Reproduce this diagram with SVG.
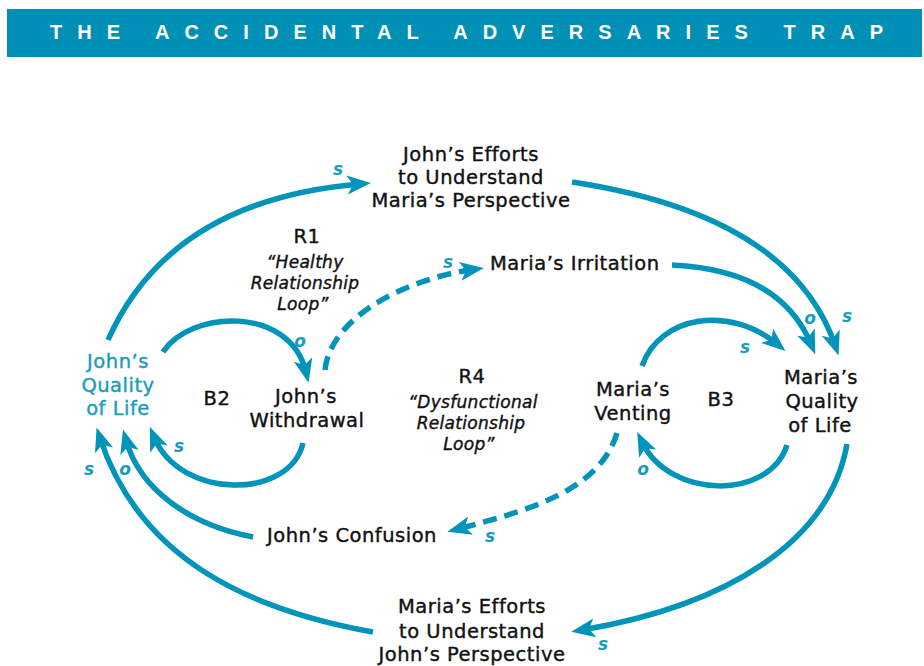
<svg xmlns="http://www.w3.org/2000/svg" width="924" height="666" viewBox="0 0 924 666">
<defs>
<style>
.t{font-family:"DejaVu Sans","Liberation Sans",sans-serif;font-size:19.5px;letter-spacing:0.5px;fill:#111;stroke:#111;stroke-width:0.4;text-anchor:middle}
.q{fill:#1a9cc0;stroke:#1a9cc0}
.i{font-style:italic;font-size:17px;letter-spacing:0.3px}
.p{font-family:"DejaVu Sans","Liberation Sans",sans-serif;font-size:17px;font-weight:bold;font-style:italic;fill:#1a9cc0;text-anchor:middle}
.c{fill:none;stroke:#0094BA;stroke-width:5.5;marker-end:url(#ah)}
.d{stroke-dasharray:14 8}
</style>
<marker id="ah" markerUnits="userSpaceOnUse" markerWidth="30" markerHeight="30" viewBox="-15 -15 30 30" refX="0" refY="0" orient="auto">
<path d="M11,0 L-13,-9.5 L-7,0 L-13,9.5 Z" fill="#0094BA"/>
</marker>
</defs>
<rect x="7" y="9" width="915" height="48" fill="#008FB5"/>
<text x="50" y="39" textLength="833" lengthAdjust="spacing" style="font-family:'Liberation Sans',Arial,sans-serif;font-weight:bold;font-size:20px;fill:#fff">THE ACCIDENTAL ADVERSARIES TRAP</text>

<g id="connectors">
<path class="c" d="M108,340 Q170,200 360,184"/>
<path class="c" d="M572,182 Q790,215 835,345"/>
<path class="c" d="M672,265 Q780,270 811,344"/>
<path class="c" d="M642,366 C660,315 730,305 777,344"/>
<path class="c" d="M787,445 C770,500 670,500 642,442"/>
<path class="c" d="M847,444 C830,540 730,605 582,630"/>
<path class="c" d="M373,632 C250,610 140,560 100,438"/>
<path class="c" d="M253,537 C190,525 140,490 126,440"/>
<path class="c" d="M303,443 C290,500 180,500 154,437"/>
<path class="c" d="M163,352 C190,310 290,305 306,372"/>
<path class="c d" d="M325,370 C330,320 400,280 473,269.5"/>
<path class="c d" d="M617,433 C600,490 530,510 458,529"/>
</g>

<g id="polarities">
<text class="p" x="338" y="175">s</text>
<text class="p" x="448" y="268">s</text>
<text class="p" x="300" y="347">o</text>
<text class="p" x="179" y="452">s</text>
<text class="p" x="89" y="475">s</text>
<text class="p" x="125" y="475">o</text>
<text class="p" x="810" y="324">o</text>
<text class="p" x="847" y="322">s</text>
<text class="p" x="745" y="353">s</text>
<text class="p" x="643" y="475">o</text>
<text class="p" x="490" y="542">s</text>
<text class="p" x="603" y="650">s</text>
</g>

<g id="johns-efforts"><text class="t" x="471" y="161">John’s Efforts<tspan x="471" y="184">to Understand</tspan><tspan x="471" y="207">Maria’s Perspective</tspan></text></g>
<g id="marias-irritation"><text class="t" x="490" y="270" style="text-anchor:start">Maria’s Irritation</text></g>
<g id="r1"><text class="t" x="307" y="243">R1</text><text class="t i" x="305" y="268">“Healthy<tspan x="305" y="289">Relationship</tspan><tspan x="303" y="310">Loop”</tspan></text></g>
<g id="johns-quality"><text class="t q" x="118" y="368">John’s<tspan x="118" y="392">Quality</tspan><tspan x="118" y="415">of Life</tspan></text></g>
<g id="b2"><text class="t" x="217" y="405">B2</text></g>
<g id="johns-withdrawal"><text class="t" x="306" y="403">John’s<tspan x="307" y="427">Withdrawal</tspan></text></g>
<g id="r4"><text class="t" x="472" y="383">R4</text><text class="t i" x="473" y="408">“Dysfunctional<tspan x="471" y="429">Relationship</tspan><tspan x="469" y="450">Loop”</tspan></text></g>
<g id="marias-venting"><text class="t" x="633" y="396">Maria’s<tspan x="633" y="420">Venting</tspan></text></g>
<g id="b3"><text class="t" x="721" y="406">B3</text></g>
<g id="marias-quality"><text class="t" x="821" y="384">Maria’s<tspan x="822" y="408">Quality</tspan><tspan x="820" y="432">of Life</tspan></text></g>
<g id="johns-confusion"><text class="t" x="267" y="542" style="text-anchor:start">John’s Confusion</text></g>
<g id="marias-efforts"><text class="t" x="472" y="613">Maria’s Efforts<tspan x="472" y="638">to Understand</tspan><tspan x="472" y="661">John’s Perspective</tspan></text></g>
</svg>
